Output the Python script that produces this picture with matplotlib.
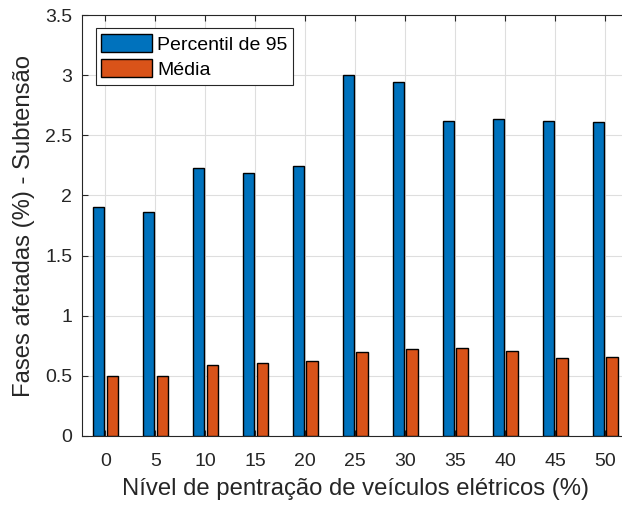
import numpy as np
import matplotlib.pyplot as plt

plt.rcParams['font.family'] = ['Liberation Sans', 'DejaVu Sans']

# penetration levels (%)
levels = [0, 5, 10, 15, 20, 25, 30, 35, 40, 45, 50]
# 95th percentile and mean of affected phases (%)
p95 = [1.90, 1.86, 2.225, 2.19, 2.247, 3.0, 2.945, 2.616, 2.632, 2.618, 2.607]
media = [0.496, 0.501, 0.59, 0.607, 0.626, 0.698, 0.723, 0.729, 0.709, 0.646, 0.654]

blue = "#0072bd"
orange = "#d95319"
axis_color = "#262626"

fig = plt.figure(figsize=(6.22, 5.08), dpi=100)
ax = fig.add_axes([82 / 622, 1 - 436 / 508, (628.5 - 82) / 622, (436 - 15) / 508])

x = np.arange(len(levels))
w = 0.226
ax.bar(x - 0.137, p95, width=w, color=blue, edgecolor="black", linewidth=1.0,
       label="Percentil de 95", zorder=3)
ax.bar(x + 0.137, media, width=w, color=orange, edgecolor="black", linewidth=1.0,
       label="Média", zorder=3)

ax.set_xlim(-0.47, 10.47)
ax.set_ylim(0, 3.5)
ax.set_xticks(x)
ax.set_xticklabels([str(v) for v in levels])
ax.set_yticks(np.arange(0, 3.51, 0.5))
ax.set_yticklabels(["0", "0.5", "1", "1.5", "2", "2.5", "3", "3.5"])

ax.grid(True, color="#dedede", linewidth=0.8, zorder=0)
ax.set_axisbelow(True)
ax.tick_params(direction="in", length=4, width=0.8, colors=axis_color,
               labelsize=14, top=True, right=True)
ax.tick_params(axis="x", pad=12)
ax.tick_params(axis="y", pad=7)
for side in ax.spines.values():
    side.set_color(axis_color)
    side.set_linewidth(0.8)

ax.set_xlabel("Nível de pentração de veículos elétricos (%)", fontsize=17.2,
              color=axis_color, labelpad=6)
ax.set_ylabel("Fases afetadas (%) - Subtensão", fontsize=17.2,
              color=axis_color, labelpad=7)

leg = ax.legend(loc="upper left", bbox_to_anchor=(0.025, 0.968), fontsize=14,
                fancybox=False, framealpha=1, edgecolor=axis_color,
                handlelength=2.6, handleheight=1.0, handletextpad=0.25,
                borderpad=0.3, labelspacing=0.3, borderaxespad=0)
leg.get_frame().set_linewidth(0.8)

fig.savefig("out.png", dpi=100)
